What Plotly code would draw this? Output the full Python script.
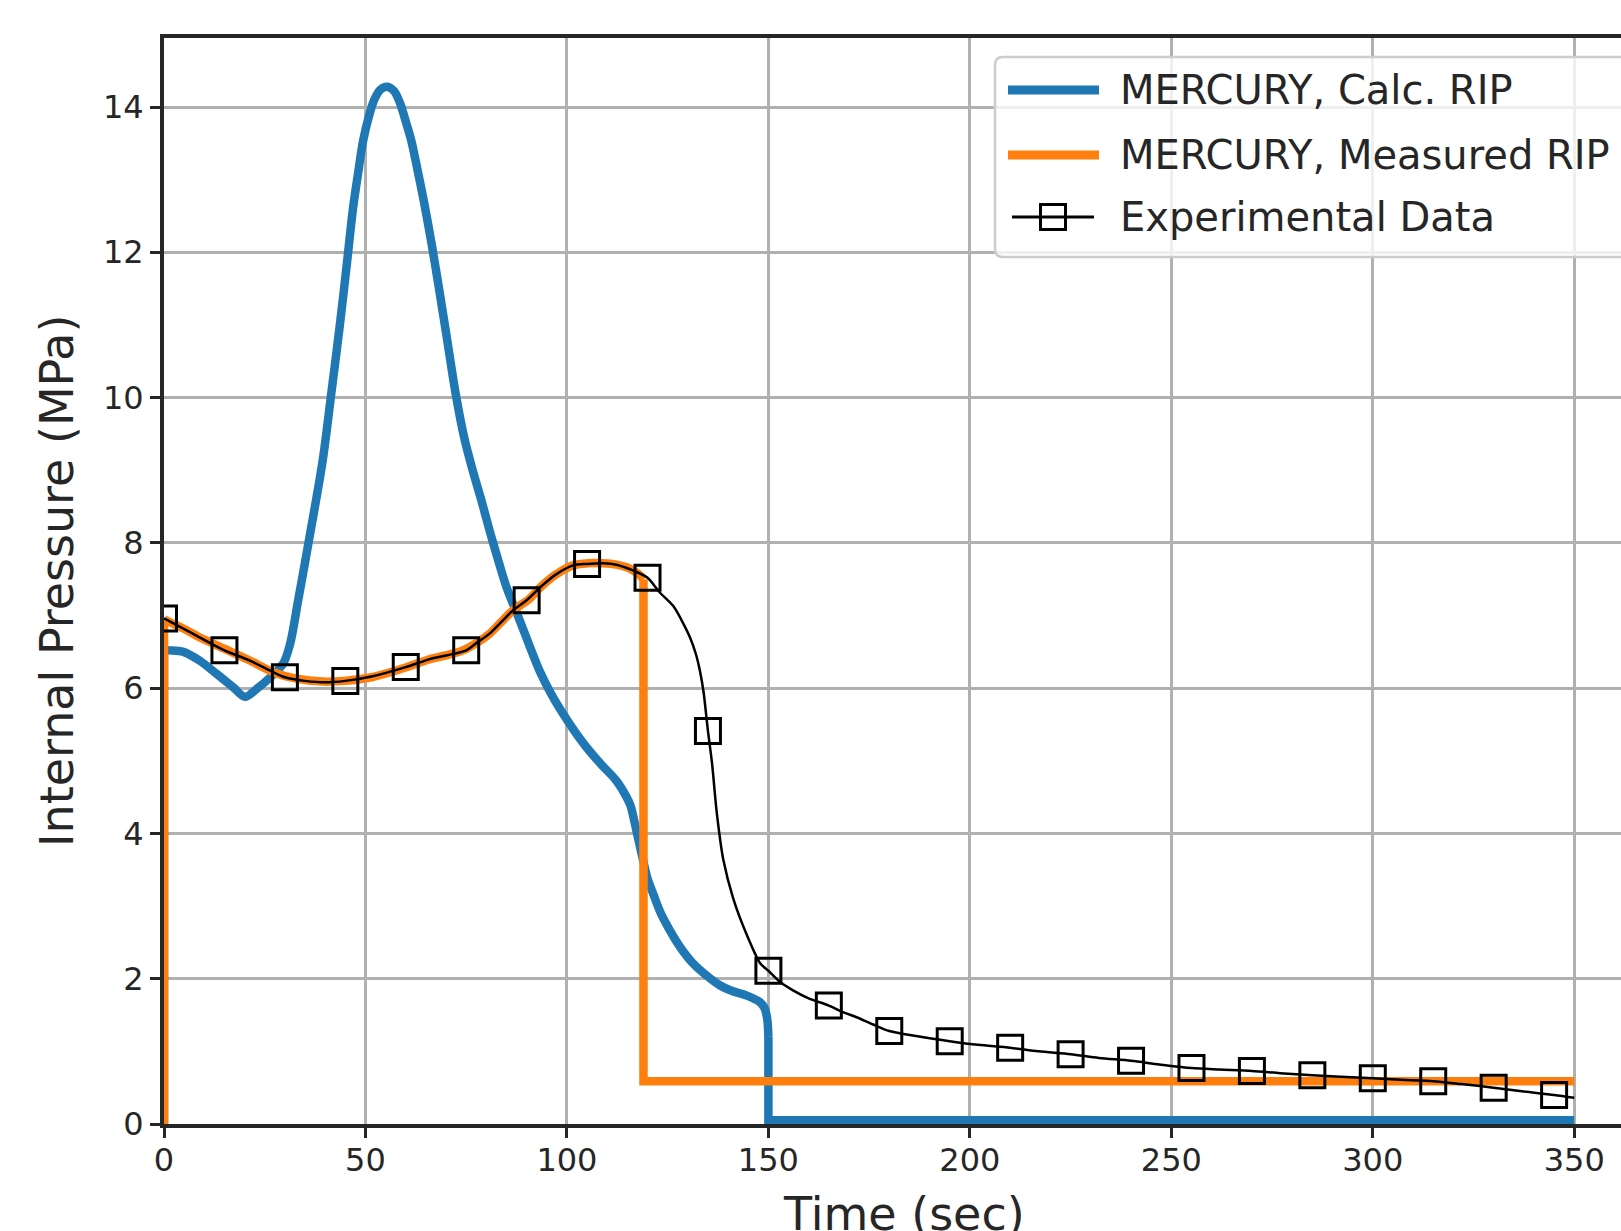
import plotly.graph_objects as go

# ---------------- data ----------------
calc_time = [0, 0, 1.5, 4.8, 8.8, 13, 17.2, 20.1, 23, 26.4, 29.6, 31.3, 33.3, 36.5,
             39.4, 41.5, 43.6, 45.3, 46.9, 48.2, 49.4, 50.8, 52.1, 53.7, 55.4, 57.1, 58.6,
             60.0, 61.4, 62.6, 64.5, 66.4, 68.4, 70.4, 72.4, 74.5, 76.7, 78.8, 80.8, 83, 85, 88.3,
             90.8, 93.2, 96, 99, 102, 104.8, 108.5, 112.2, 114.8, 115.8, 116.6, 117.6,
             118.9, 120, 121.4, 123.3, 125.5, 128.3, 131.3, 134.5, 137.9, 141, 144.5,
             147.8, 149, 149.7, 150, 150, 350]
calc_rip = [0, 6.52, 6.52, 6.50, 6.38, 6.20, 6.01, 5.88, 5.99, 6.15, 6.34, 6.61, 7.21, 8.20,
            9.14, 10.05, 10.98, 11.80, 12.60, 13.10, 13.53, 13.86, 14.09, 14.24, 14.28, 14.22, 14.05,
            13.80, 13.53, 13.22, 12.70, 12.12, 11.45, 10.75, 10.05, 9.45, 8.98, 8.58, 8.17, 7.75, 7.39, 6.93,
            6.57, 6.24, 5.93, 5.65, 5.40, 5.19, 4.95, 4.73, 4.50, 4.38, 4.20, 3.95,
            3.63, 3.38, 3.17, 2.90, 2.67, 2.42, 2.21, 2.05, 1.91, 1.83, 1.77,
            1.68, 1.60, 1.45, 1.20, 0.05, 0.05]

meas_time = [0, 0, 0.6, 4.8, 8.8, 15.1, 21.3, 27.1, 32.9, 39.5, 44.7, 51.5, 59.8, 66, 70,
             74.2, 77.5, 80.8, 83.5, 86.6, 90.5, 94, 97.4, 101.5, 105.4, 109, 112.3, 115,
             117, 118.2, 119, 119, 350]
meas_rip = [0, 6.95, 6.93, 6.82, 6.70, 6.54, 6.38, 6.22, 6.13, 6.09, 6.10, 6.15, 6.28, 6.40, 6.45,
            6.52, 6.62, 6.75, 6.90, 7.07, 7.22, 7.42, 7.57, 7.69, 7.72, 7.72, 7.70, 7.66,
            7.60, 7.55, 7.50, 0.59, 0.59]

exp_time = [0, 4.8, 8.8, 15, 21.3, 27.1, 30, 35, 40, 45, 51.5, 60, 66, 70, 75, 77.5, 80.8,
            83.5, 86.6, 90, 94, 97.4, 101.5, 105, 109, 112.3, 116.4, 120, 123, 126.4, 128.5,
            130.6, 132, 133, 133.9, 135, 136, 137.2, 138.8, 141.3, 144.6, 148, 150, 153,
            156.1, 160, 165, 168.5, 171.9, 176, 180, 186.7, 195, 202, 210, 217, 225, 232,
            240, 247, 255, 262, 270, 277, 285, 292, 300, 307, 315, 322, 330, 337, 345, 350]
exp_pressure = [6.96, 6.82, 6.70, 6.52, 6.38, 6.22, 6.15, 6.10, 6.08, 6.10, 6.16, 6.29, 6.40, 6.45,
                6.52, 6.62, 6.75, 6.90, 7.07, 7.21, 7.42, 7.57, 7.69, 7.71, 7.72, 7.70, 7.62,
                7.52, 7.32, 7.13, 6.93, 6.69, 6.47, 6.24, 5.95, 5.41, 4.97, 4.28, 3.64, 3.10,
                2.61, 2.21, 2.11, 1.95, 1.84, 1.73, 1.63, 1.54, 1.47, 1.37, 1.28, 1.21, 1.14,
                1.09, 1.05, 1.00, 0.96, 0.91, 0.87, 0.82, 0.77, 0.75, 0.73, 0.70, 0.67, 0.65,
                0.63, 0.61, 0.59, 0.55, 0.50, 0.45, 0.40, 0.36]
marker_every = 15  # seconds between plotted experimental markers

x_ticks = [0, 50, 100, 150, 200, 250, 300, 350]
y_ticks = [0, 2, 4, 6, 8, 10, 12, 14]

legend_labels = ["MERCURY, Calc. RIP", "MERCURY, Measured RIP", "Experimental Data"]
x_title = "Time (sec)"
y_title = "Internal Pressure (MPa)"

BLUE = "#1f77b4"
ORANGE = "#ff7f0e"
INK = "#262626"
GRID = "#b0b0b0"
FONT = "DejaVu Sans"
LW = 8.5

# ---------------- layout geometry ----------------
W, H = 1621, 1231
PL, PT, PW, PH = 164, 38, 1457, 1086
X_MAX = 361.6
Y_MAX = 14.95


def px(x):
    return (x - PL) / PW


def py(y):
    return (PT + PH - y) / PH


def seg(xs, ys, i0, i1):
    return xs[i0:i1], ys[i0:i1]


fig = go.Figure()

# calculated RIP: straight rise at t=0, smooth body, straight drop and flat tail
n = len(calc_time)
parts = [(0, 2, "linear"), (1, n - 2, "spline"), (n - 3, n, "linear")]
for i0, i1, shape in parts:
    xs, ys = seg(calc_time, calc_rip, i0, i1)
    fig.add_trace(go.Scatter(x=xs, y=ys, mode="lines",
                             line=dict(color=BLUE, width=LW, shape=shape, smoothing=0.9),
                             showlegend=False, name=legend_labels[0]))

# measured RIP
m = len(meas_time)
parts = [(0, 2, "linear"), (1, m - 2, "spline"), (m - 3, m, "linear")]
for i0, i1, shape in parts:
    xs, ys = seg(meas_time, meas_rip, i0, i1)
    fig.add_trace(go.Scatter(x=xs, y=ys, mode="lines",
                             line=dict(color=ORANGE, width=LW, shape=shape, smoothing=0.8),
                             showlegend=False, name=legend_labels[1]))

# experimental data
fig.add_trace(go.Scatter(x=exp_time, y=exp_pressure, mode="lines",
                         line=dict(color="black", width=2.5, shape="spline", smoothing=0.8),
                         showlegend=False, name=legend_labels[2]))
is_mk = [abs(t / marker_every - round(t / marker_every)) < 1e-9 for t in exp_time]
mk_t = [t for t, k in zip(exp_time, is_mk) if k]
mk_p = [p for p, k in zip(exp_pressure, is_mk) if k]
fig.add_trace(go.Scatter(x=mk_t, y=mk_p, mode="markers", cliponaxis=True,
                         marker=dict(symbol="square-open", size=25, color="black",
                                     line=dict(width=3, color="black")),
                         showlegend=False))

# ---------------- hand-built legend ----------------
shapes = []
lx0, lx1, ly0, ly1, r = 995, 1660, 57, 257, 8
X0, X1, YT, YB = px(lx0), px(lx1), py(ly0), py(ly1)
rx, ry = r / PW, r / PH
path = (f"M {X0+rx},{YT} L {X1-rx},{YT} Q {X1},{YT} {X1},{YT-ry} L {X1},{YB+ry} "
        f"Q {X1},{YB} {X1-rx},{YB} L {X0+rx},{YB} Q {X0},{YB} {X0},{YB+ry} "
        f"L {X0},{YT-ry} Q {X0},{YT} {X0+rx},{YT} Z")
shapes.append(dict(type="path", xref="paper", yref="paper", path=path,
                   fillcolor="rgba(255,255,255,0.8)", line=dict(color="#cccccc", width=2.5),
                   layer="above"))
rows_y = [90, 155, 217]
shapes.append(dict(type="line", xref="paper", yref="paper", x0=px(1008), x1=px(1099),
                   y0=py(rows_y[0]), y1=py(rows_y[0]), line=dict(color=BLUE, width=9),
                   layer="above"))
shapes.append(dict(type="line", xref="paper", yref="paper", x0=px(1008), x1=px(1099),
                   y0=py(rows_y[1]), y1=py(rows_y[1]), line=dict(color=ORANGE, width=9),
                   layer="above"))
shapes.append(dict(type="line", xref="paper", yref="paper", x0=px(1012), x1=px(1094),
                   y0=py(rows_y[2]), y1=py(rows_y[2]), line=dict(color="black", width=3),
                   layer="above"))
shapes.append(dict(type="rect", xref="paper", yref="paper", x0=px(1053 - 12.5), x1=px(1053 + 12.5),
                   y0=py(rows_y[2] - 12.5), y1=py(rows_y[2] + 12.5),
                   fillcolor="rgba(0,0,0,0)", line=dict(color="black", width=3), layer="above"))

annotations = []
for lab, yy in zip(legend_labels, rows_y):
    annotations.append(dict(text=lab, xref="paper", yref="paper", x=px(1118), y=py(yy),
                            xanchor="left", yanchor="middle", showarrow=False,
                            font=dict(family=FONT, size=40, color=INK)))

# axis titles as annotations (x title centred on the full, cropped axes)
annotations.append(dict(text=x_title, xref="x", yref="paper", x=183.75, y=py(1185),
                        xanchor="center", yanchor="top", showarrow=False,
                        font=dict(family=FONT, size=46, color=INK)))
annotations.append(dict(text=y_title, xref="paper", yref="paper", x=px(57), y=0.5,
                        xanchor="center", yanchor="middle", textangle=-90, showarrow=False,
                        font=dict(family=FONT, size=46, color=INK)))

fig.update_layout(
    width=W, height=H, autosize=False,
    margin=dict(l=PL, r=W - PL - PW, t=PT, b=H - PT - PH, pad=0),
    paper_bgcolor="white", plot_bgcolor="white",
    showlegend=False,
    shapes=shapes, annotations=annotations,
    font=dict(family=FONT, color=INK),
)
fig.update_xaxes(range=[0, X_MAX], tickvals=x_ticks, ticktext=[str(v) for v in x_ticks],
                 showgrid=True, gridcolor=GRID, gridwidth=3, zeroline=False,
                 showline=True, linecolor=INK, linewidth=4, mirror=True,
                 ticks="outside", ticklen=10, tickwidth=3, tickcolor=INK,
                 ticklabelstandoff=-5,
                 tickfont=dict(family=FONT, size=32, color=INK))
fig.update_yaxes(range=[0, Y_MAX], tickvals=y_ticks, ticktext=[str(v) for v in y_ticks],
                 showgrid=True, gridcolor=GRID, gridwidth=3, zeroline=False,
                 showline=True, linecolor=INK, linewidth=4, mirror=False,
                 ticks="outside", ticklen=10, tickwidth=3, tickcolor=INK,
                 tickfont=dict(family=FONT, size=32, color=INK))

fig.write_html("out.html", config={"displayModeBar": False},
               post_script="document.body.style.margin='0';document.body.style.overflow='hidden';")
